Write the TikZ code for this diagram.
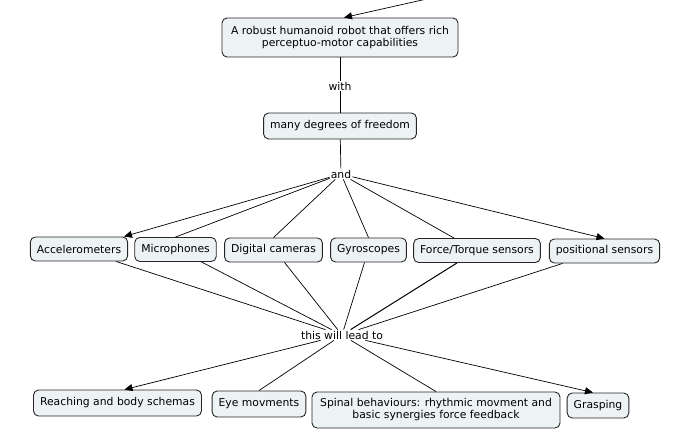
\documentclass[tikz,border=0pt]{standalone}
\usepackage{fontspec}
\setmainfont{DejaVu Sans}
\usetikzlibrary{arrows.meta}
\definecolor{conceptfill}{HTML}{EDF3F5}

\begin{document}
\begin{tikzpicture}[x=1pt,y=-1pt,
    concept/.style={draw=black!85,fill=conceptfill,rounded corners=5pt,line width=0.9pt,
	inner xsep=6.5pt,minimum height=24pt,align=center,font=\fontsize{10.8}{12}\selectfont},
    phrase/.style={inner sep=1pt,font=\fontsize{10.8}{12}\selectfont},
    link/.style={line width=0.7pt},
    linkto/.style={line width=0.7pt,-{Triangle[length=8pt,width=7pt]}}]
\useasboundingbox (0,0) rectangle (697,440);
\node[concept,minimum height=39pt,minimum width=236pt] (robot) at (340,37.5)
    {A robust humanoid robot that offers rich\\perceptuo-motor capabilities};
\node[phrase] (with) at (340,86) {with};
\node[concept,minimum height=26pt] (dof) at (340,126) {many degrees of freedom};
\node[phrase] (and) at (341,174) {and};
\node[concept] (acc) at (79,249) {Accelerometers};
\node[concept] (mic) at (175.5,249.5) {Microphones};
\node[concept] (cam) at (273.5,250) {Digital cameras};
\node[concept] (gyro) at (368.5,250) {Gyroscopes};
\node[concept] (ft) at (477,250.5) {Force/Torque sensors};
\node[concept] (pos) at (604.5,251) {positional sensors};
\node[phrase] (lead) at (342,335) {this will lead to};
\node[concept,minimum height=26pt] (reach) at (117.5,403) {Reaching and body schemas};
\node[concept,minimum height=26pt] (eye) at (259,404) {Eye movments};
\node[concept,minimum height=36pt,minimum width=248pt] (spinal) at (436,410)
    {Spinal behaviours: rhythmic movment and\\basic synergies force feedback};
\node[concept,minimum height=25pt] (grasp) at (598,405.5) {Grasping};
\coordinate (from) at (440,-4);

\draw[linkto] (from) -- ([xshift=4pt]robot.north);
\draw[link] (robot) -- (with);
\draw[link] (with) -- (dof);
\draw[link] (dof) -- (and);
\draw[linkto] (and) -- ([xshift=45pt]acc.north);
\draw[link] (and) -- (mic.north);
\draw[link] (and) -- (cam.north);
\draw[link] (and) -- (gyro.north);
\draw[link] (and) -- ([xshift=-23pt]ft.north);
\draw[linkto] (and) -- (pos.north);
\draw[link] ([xshift=37pt]acc.south) -- (lead);
\draw[link] ([xshift=26pt]mic.south) -- (lead);
\draw[link] ([xshift=11pt]cam.south) -- (lead);
\draw[link] ([xshift=-4pt]gyro.south) -- (lead);
\draw[link,line width=1pt] ([xshift=-20pt]ft.south) -- (lead);
\draw[link] ([xshift=-42pt]pos.south) -- (lead);
\draw[linkto] (lead) -- ([xshift=7pt]reach.north);
\draw[link] (lead) -- (eye.north);
\draw[link] (lead) -- (spinal.north);
\draw[linkto] (lead) -- ([xshift=-5pt]grasp.north);
\end{tikzpicture}
\end{document}
